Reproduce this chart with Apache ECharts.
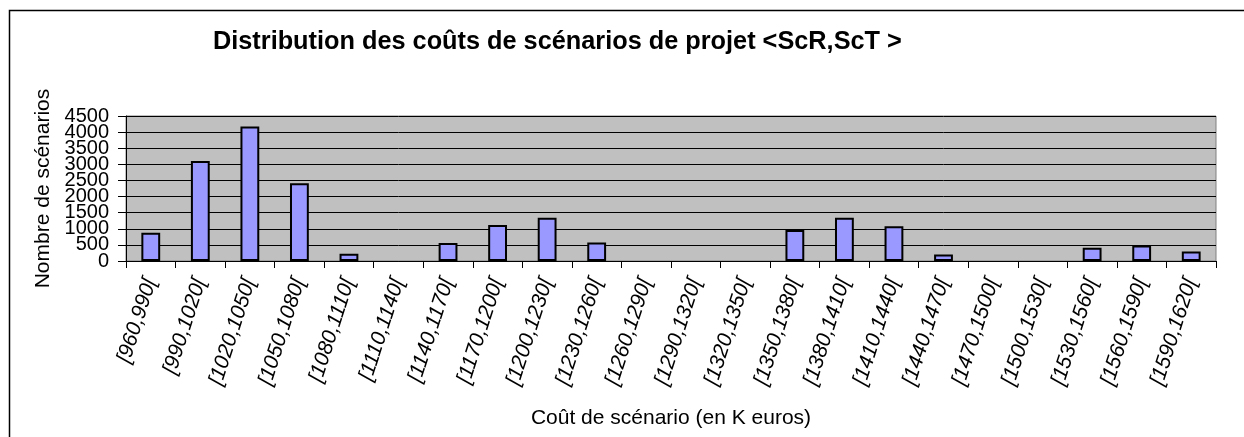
<!DOCTYPE html>
<html>
<head>
<meta charset="utf-8">
<title>Distribution des coûts de scénarios de projet</title>
<script src="https://cdn.jsdelivr.net/npm/echarts@6/dist/echarts.min.js"></script>
<style>
  html, body { margin: 0; padding: 0; background: #ffffff; }
  #chart { width: 1244px; height: 437px; }
</style>
</head>
<body>
<div id="chart"></div>
<script>
// Cost brackets (K euros) and number of scenarios falling in each one
const categories = [
  '[960,990[', '[990,1020[', '[1020,1050[', '[1050,1080[', '[1080,1110[',
  '[1110,1140[', '[1140,1170[', '[1170,1200[', '[1200,1230[', '[1230,1260[',
  '[1260,1290[', '[1290,1320[', '[1320,1350[', '[1350,1380[', '[1380,1410[',
  '[1410,1440[', '[1440,1470[', '[1470,1500[', '[1500,1530[', '[1530,1560[',
  '[1560,1590[', '[1590,1620['
];
const scenarioCounts = [
  875, 3100, 4175, 2415, 225,
  0, 555, 1115, 1340, 575,
  0, 0, 0, 965, 1340,
  1080, 205, 0, 0, 415,
  480, 295
];

const chartTitle = 'Distribution des coûts de scénarios de projet <ScR,ScT >';
const xAxisTitle = 'Coût de scénario (en K euros)';
const yAxisTitle = 'Nombre de scénarios';
const yMin = 0, yMax = 4500, yStep = 500;

const FONT = '"Liberation Sans", Arial, Helvetica, sans-serif';

// empty brackets get no bar at all (no outline sitting on the axis)
const barData = scenarioCounts.map(v => (v === 0 ? '-' : v));

// The tick labels are tightly packed; ECharts drops the ones next to the
// first/last label when they touch.  The labels right next to the ends are
// therefore printed by a second, bare axis sharing the same scale.
const nearEnds = [yMin + yStep, yMax - yStep];
const yLabelStyle = {
  margin: 17,
  fontFamily: FONT,
  fontSize: 20,
  color: '#000000'
};

const chart = echarts.init(document.getElementById('chart'), null, { renderer: 'canvas' });

chart.setOption({
  backgroundColor: '#ffffff',
  animation: false,
  title: {
    text: chartTitle,
    left: 213,
    top: 30,
    padding: 0,
    textStyle: { fontFamily: FONT, fontSize: 25.3, fontWeight: 'bold', color: '#000000' }
  },
  graphic: [{
    // chart frame (right and bottom edges fall outside the page)
    type: 'rect',
    silent: true,
    shape: { x: 9.5, y: 10.5, width: 1400, height: 600 },
    style: { fill: null, stroke: '#000000', lineWidth: 1.5 }
  }],
  grid: {
    left: 126, right: 28, top: 116, bottom: 176,
    show: true,
    backgroundColor: '#c0c0c0',
    borderColor: '#808080',
    borderWidth: 1
  },
  xAxis: {
    type: 'category',
    data: categories,
    name: xAxisTitle,
    nameLocation: 'middle',
    nameGap: 147,
    nameTextStyle: { fontFamily: FONT, fontSize: 21, color: '#000000' },
    axisLine: { show: true, lineStyle: { color: '#000000', width: 1 } },
    axisTick: { show: true, length: 7, lineStyle: { color: '#000000' } },
    axisLabel: {
      interval: 0,
      rotate: 72,
      margin: 18,
      fontFamily: FONT,
      fontSize: 21,
      fontStyle: 'italic',
      color: '#000000'
    },
    splitLine: { show: false }
  },
  yAxis: [{
    type: 'value',
    position: 'left',
    min: yMin,
    max: yMax,
    interval: yStep,
    name: yAxisTitle,
    nameLocation: 'middle',
    nameGap: 67,
    nameRotate: 90,
    nameTextStyle: { fontFamily: FONT, fontSize: 21, color: '#000000' },
    axisLine: { show: true, lineStyle: { color: '#000000', width: 1 } },
    axisTick: { show: true, length: 8, lineStyle: { color: '#000000' } },
    axisLabel: Object.assign({}, yLabelStyle, {
      showMinLabel: true,
      showMaxLabel: true,
      formatter: v => (nearEnds.includes(v) ? '' : String(v))
    }),
    splitLine: { show: true, lineStyle: { color: '#000000', width: 1 } }
  }, {
    type: 'value',
    position: 'left',
    offset: 0,
    min: yMin,
    max: yMax,
    interval: yStep,
    axisLine: { show: false },
    axisTick: { show: false },
    splitLine: { show: false },
    axisLabel: Object.assign({}, yLabelStyle, {
      showMinLabel: false,
      showMaxLabel: false,
      formatter: v => (nearEnds.includes(v) ? String(v) : '')
    })
  }],
  series: [{
    type: 'bar',
    yAxisIndex: 0,
    data: barData,
    barCategoryGap: '62%',
    itemStyle: {
      color: '#9999ff',
      borderColor: '#000000',
      borderWidth: 2
    }
  }]
});
</script>
</body>
</html>
